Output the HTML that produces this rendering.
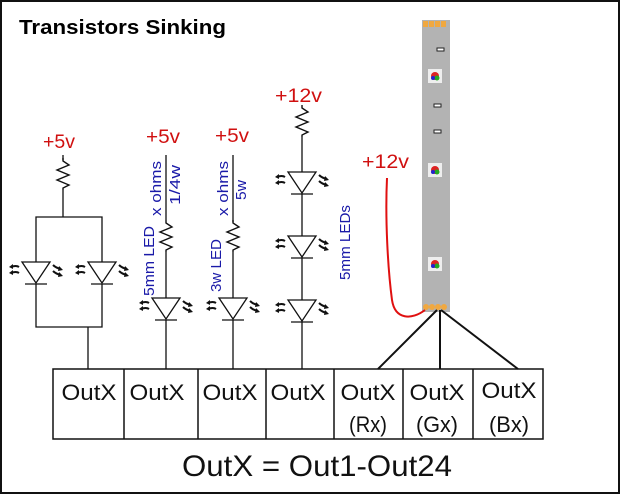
<!DOCTYPE html>
<html><head><style>
html,body{margin:0;padding:0;background:#fff;}
svg{display:block;}
text{font-family:"Liberation Sans",sans-serif;}
</style></head><body>
<svg width="620" height="494" viewBox="0 0 620 494" xmlns="http://www.w3.org/2000/svg">
<defs>
<symbol id="led" overflow="visible">
<g stroke="#111" stroke-width="1.3" fill="#fff">
<polygon points="-14,0 14,0 0,21"/>
<line x1="-11" y1="22" x2="11" y2="22"/>
</g>
<g stroke="#111" stroke-width="2" fill="none">
<path d="M-17,5 q-3,-2 -8,0"/><path d="M-17,11 q-3,-2 -8,0"/>
<path d="M17,3 q3,3 8,4"/><path d="M17,9 q3,3 8,4"/>
</g>
<g fill="#111">
<polygon points="-27,5 -23,2 -23,7"/><polygon points="-27,11 -23,8 -23,13"/>
<polygon points="27,8 23,4 22,9"/><polygon points="27,14 23,10 22,15"/>
</g>
</symbol>
<symbol id="res" overflow="visible">
<polyline points="0,0 0,3 6,7 -6,12 6,17 -6,22 6,27 0,30 0,32" fill="none" stroke="#111" stroke-width="1.4"/>
</symbol>
</defs>
<rect x="1" y="1" width="618" height="492" fill="#fff" stroke="#111" stroke-width="2"/>
<text x="19" y="34" font-size="20" font-weight="bold" textLength="207" lengthAdjust="spacingAndGlyphs">Transistors Sinking</text>

<g stroke="#111" stroke-width="1.3" fill="none">
<line x1="63" y1="155" x2="63" y2="160"/>
<line x1="63" y1="190" x2="63" y2="217"/>
<polyline points="36,262 36,217 102,217 102,262"/>
<polyline points="36,284 36,327 102,327 102,284"/>
<line x1="88" y1="327" x2="88" y2="369"/>
<line x1="166" y1="155" x2="166" y2="220"/>
<line x1="166" y1="252" x2="166" y2="298"/>
<line x1="166" y1="320" x2="166" y2="369"/>
<line x1="233" y1="155" x2="233" y2="222"/>
<line x1="233" y1="252" x2="233" y2="298"/>
<line x1="233" y1="320" x2="233" y2="369"/>
<line x1="302" y1="137" x2="302" y2="172"/>
<line x1="302" y1="193" x2="302" y2="236"/>
<line x1="302" y1="257" x2="302" y2="300"/>
<line x1="302" y1="321" x2="302" y2="369"/>
</g>
<use href="#res" x="63" y="158"/>
<use href="#res" x="166" y="220"/>
<use href="#res" x="233" y="220"/>
<use href="#res" x="302" y="105"/>
<use href="#led" x="36" y="262"/>
<use href="#led" x="102" y="262"/>
<use href="#led" x="166" y="298"/>
<use href="#led" x="233" y="298"/>
<use href="#led" x="302" y="172"/>
<use href="#led" x="302" y="236"/>
<use href="#led" x="302" y="300"/>

<g fill="#d01010" font-size="19">
<text x="43" y="148" textLength="32" lengthAdjust="spacingAndGlyphs">+5v</text>
<text x="146" y="143" textLength="34" lengthAdjust="spacingAndGlyphs">+5v</text>
<text x="215" y="142" textLength="34" lengthAdjust="spacingAndGlyphs">+5v</text>
<text x="275" y="102" textLength="47" lengthAdjust="spacingAndGlyphs">+12v</text>
<text x="362" y="168" textLength="47" lengthAdjust="spacingAndGlyphs">+12v</text>
</g>
<g fill="#1a1aa8" font-size="15">
<text transform="translate(161,216) rotate(-90)" textLength="55" lengthAdjust="spacingAndGlyphs">x ohms</text>
<text transform="translate(180,205) rotate(-90)" textLength="40" lengthAdjust="spacingAndGlyphs">1/4w</text>
<text transform="translate(154,296) rotate(-90)" textLength="70" lengthAdjust="spacingAndGlyphs">5mm LED</text>
<text transform="translate(228,216) rotate(-90)" textLength="55" lengthAdjust="spacingAndGlyphs">x ohms</text>
<text transform="translate(246,200) rotate(-90)" textLength="20" lengthAdjust="spacingAndGlyphs">5w</text>
<text transform="translate(221,292) rotate(-90)" textLength="53" lengthAdjust="spacingAndGlyphs">3w LED</text>
<text transform="translate(350,280) rotate(-90)" textLength="75" lengthAdjust="spacingAndGlyphs">5mm LEDs</text>
</g>

<rect x="422" y="20" width="28" height="292" fill="#b3b3b3"/>
<g fill="#f0a840">
<rect x="423" y="21" width="5" height="6"/><rect x="429" y="21" width="5" height="6"/><rect x="435" y="21" width="5" height="6"/><rect x="441" y="21" width="5" height="6"/>
<circle cx="426" cy="307" r="3"/><circle cx="432" cy="307" r="3"/><circle cx="438" cy="307" r="3"/><circle cx="444" cy="307" r="3"/>
</g>
<g fill="#eee"><rect x="428" y="69" width="14" height="14"/><rect x="428" y="163" width="14" height="14"/><rect x="428" y="257" width="14" height="14"/></g>
<g><circle cx="435" cy="76" r="4" fill="#d22"/><circle cx="437" cy="78" r="2.5" fill="#2a2"/><circle cx="433" cy="78" r="2" fill="#22c"/>
<circle cx="435" cy="170" r="4" fill="#d22"/><circle cx="437" cy="172" r="2.5" fill="#2a2"/><circle cx="433" cy="172" r="2" fill="#22c"/>
<circle cx="435" cy="264" r="4" fill="#d22"/><circle cx="437" cy="266" r="2.5" fill="#2a2"/><circle cx="433" cy="266" r="2" fill="#22c"/></g>
<g fill="#fff" stroke="#222" stroke-width="1"><rect x="437" y="48" width="7" height="3"/><rect x="434" y="104" width="7" height="3"/><rect x="434" y="130" width="7" height="3"/></g>
<path d="M387,178 C385,220 388,270 392,300 C395,320 412,320 425,310" fill="none" stroke="#e01010" stroke-width="2"/>
<g stroke="#111" stroke-width="2">
<line x1="437" y1="310" x2="378" y2="369"/>
<line x1="440" y1="310" x2="440" y2="369"/>
<line x1="441" y1="310" x2="518" y2="369"/>
</g>

<g stroke="#111" stroke-width="1.5" fill="none">
<rect x="53" y="369" width="490" height="70"/>
<line x1="124" y1="369" x2="124" y2="439"/>
<line x1="198" y1="369" x2="198" y2="439"/>
<line x1="266" y1="369" x2="266" y2="439"/>
<line x1="334" y1="369" x2="334" y2="439"/>
<line x1="403" y1="369" x2="403" y2="439"/>
<line x1="473" y1="369" x2="473" y2="439"/>
</g>
<g font-size="22" fill="#111" text-anchor="middle">
<text x="89" y="400" textLength="55" lengthAdjust="spacingAndGlyphs">OutX</text>
<text x="157" y="400" textLength="55" lengthAdjust="spacingAndGlyphs">OutX</text>
<text x="230" y="400" textLength="55" lengthAdjust="spacingAndGlyphs">OutX</text>
<text x="298" y="400" textLength="55" lengthAdjust="spacingAndGlyphs">OutX</text>
<text x="368" y="400" textLength="55" lengthAdjust="spacingAndGlyphs">OutX</text>
<text x="437" y="400" textLength="55" lengthAdjust="spacingAndGlyphs">OutX</text>
<text x="509" y="398" textLength="55" lengthAdjust="spacingAndGlyphs">OutX</text>
<text x="368" y="432" textLength="38" lengthAdjust="spacingAndGlyphs">(Rx)</text>
<text x="437" y="432" textLength="42" lengthAdjust="spacingAndGlyphs">(Gx)</text>
<text x="509" y="432" textLength="40" lengthAdjust="spacingAndGlyphs">(Bx)</text>
</g>
<text x="317" y="476" font-size="30" fill="#111" text-anchor="middle" textLength="270" lengthAdjust="spacingAndGlyphs">OutX = Out1-Out24</text>
</svg>
</body></html>
